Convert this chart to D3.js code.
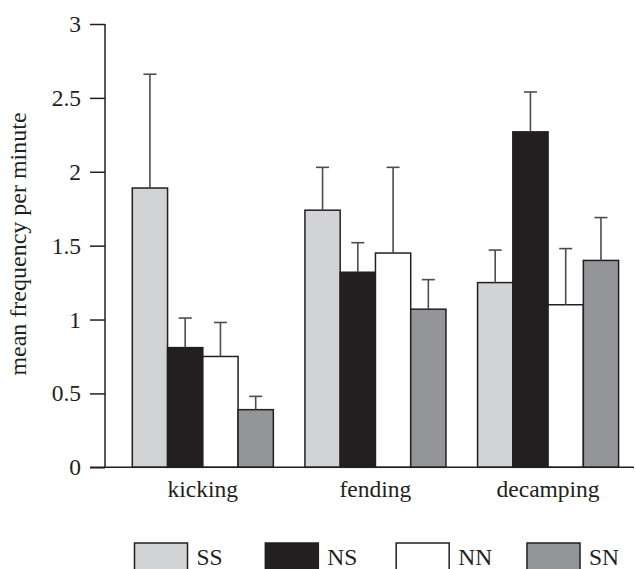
<!DOCTYPE html>
<html><head><meta charset="utf-8">
<script src="https://cdn.jsdelivr.net/npm/d3@7"></script>
<style>body{margin:0;background:#fff}svg{display:block}text{font-family:"Liberation Serif","Times New Roman",serif}</style>
</head><body>
<svg id="c" width="636" height="569"></svg>
<script>
const categories = ["kicking", "fending", "decamping"];
const series = ["SS", "NS", "NN", "SN"];
const meanSS = [1.89, 1.74, 1.25];
const meanNS = [0.81, 1.32, 2.27];
const meanNN = [0.75, 1.45, 1.10];
const meanSN = [0.39, 1.07, 1.40];
const errSS = [2.66, 2.03, 1.47];
const errNS = [1.01, 1.52, 2.54];
const errNN = [0.98, 2.03, 1.48];
const errSN = [0.48, 1.27, 1.69];
const yTicks = [0, 0.5, 1, 1.5, 2, 2.5, 3];
const colors = ["#d2d3d5", "#231f20", "#ffffff", "#939598"];

const means = [meanSS, meanNS, meanNN, meanSN];
const errs = [errSS, errNS, errNN, errSN];
const data = [];
categories.forEach((c, i) => series.forEach((s, j) => data.push({c, s, v: means[j][i], e: errs[j][i], col: colors[j]})));

const svg = d3.select("#c");
const y = d3.scaleLinear().domain([0, 3]).range([467.3, 24]);
const x0 = d3.scaleBand().domain(categories).range([132.3, 618.6]).paddingInner(0.183).paddingOuter(0);
const x1 = d3.scaleBand().domain(series).range([0, x0.bandwidth()]);

// y axis
const yAxis = d3.axisLeft(y).tickValues(yTicks).tickSize(15).tickPadding(9).tickFormat(d => String(d));
const ga = svg.append("g").attr("transform", "translate(105,0)").call(yAxis);
ga.attr("font-family", null).attr("font-size", null);
ga.select(".domain").remove();
ga.selectAll(".tick line").attr("stroke", "#231f20").attr("stroke-width", 1.5);
ga.selectAll(".tick text").style("font-size", "23.5px").attr("fill", "#231f20");
svg.append("line").attr("x1", 105).attr("x2", 105).attr("y1", y(3)).attr("y2", y(0)).attr("stroke", "#231f20").attr("stroke-width", 1.5);

// bars
svg.append("g").selectAll("rect").data(data).join("rect")
  .attr("x", d => x0(d.c) + x1(d.s))
  .attr("y", d => y(d.v))
  .attr("width", x1.bandwidth())
  .attr("height", d => y(0) - y(d.v))
  .attr("fill", d => d.col)
  .attr("stroke", "#231f20").attr("stroke-width", 1.5);

// error bars
const eg = svg.append("g").attr("stroke", "#4d4d4f").attr("stroke-width", 1.6);
eg.selectAll("line.v").data(data).join("line").attr("class", "v")
  .attr("x1", d => x0(d.c) + x1(d.s) + x1.bandwidth() / 2)
  .attr("x2", d => x0(d.c) + x1(d.s) + x1.bandwidth() / 2)
  .attr("y1", d => y(d.v)).attr("y2", d => y(d.e));
eg.selectAll("line.h").data(data).join("line").attr("class", "h")
  .attr("x1", d => x0(d.c) + x1(d.s) + x1.bandwidth() / 2 - 6.5)
  .attr("x2", d => x0(d.c) + x1(d.s) + x1.bandwidth() / 2 + 6.5)
  .attr("y1", d => y(d.e)).attr("y2", d => y(d.e));

// x baseline
svg.append("line").attr("x1", 90).attr("x2", 634).attr("y1", y(0)).attr("y2", y(0)).attr("stroke", "#231f20").attr("stroke-width", 1.5);

// x labels
svg.append("g").selectAll("text").data(categories).join("text")
  .attr("x", d => x0(d) + x0.bandwidth() / 2).attr("y", 497)
  .attr("text-anchor", "middle").style("font-size", "23.5px").attr("fill", "#231f20")
  .text(d => d);

// y title
svg.append("text").attr("transform", "translate(26,244) rotate(-90)")
  .attr("text-anchor", "middle").style("font-size", "24px").attr("fill", "#231f20")
  .text("mean frequency per minute");

// legend
const lx = d3.scalePoint().domain(series).range([134.5, 527]);
const lg = svg.append("g").selectAll("g").data(series).join("g").attr("transform", d => `translate(${lx(d)},543)`);
lg.append("rect").attr("width", 53).attr("height", 30).attr("fill", (d, i) => colors[i]).attr("stroke", "#231f20").attr("stroke-width", 1.5);
lg.append("text").attr("x", 62).attr("y", 22)
  .style("font-size", "23.5px").attr("fill", "#231f20").text(d => d);
</script>
</body></html>
